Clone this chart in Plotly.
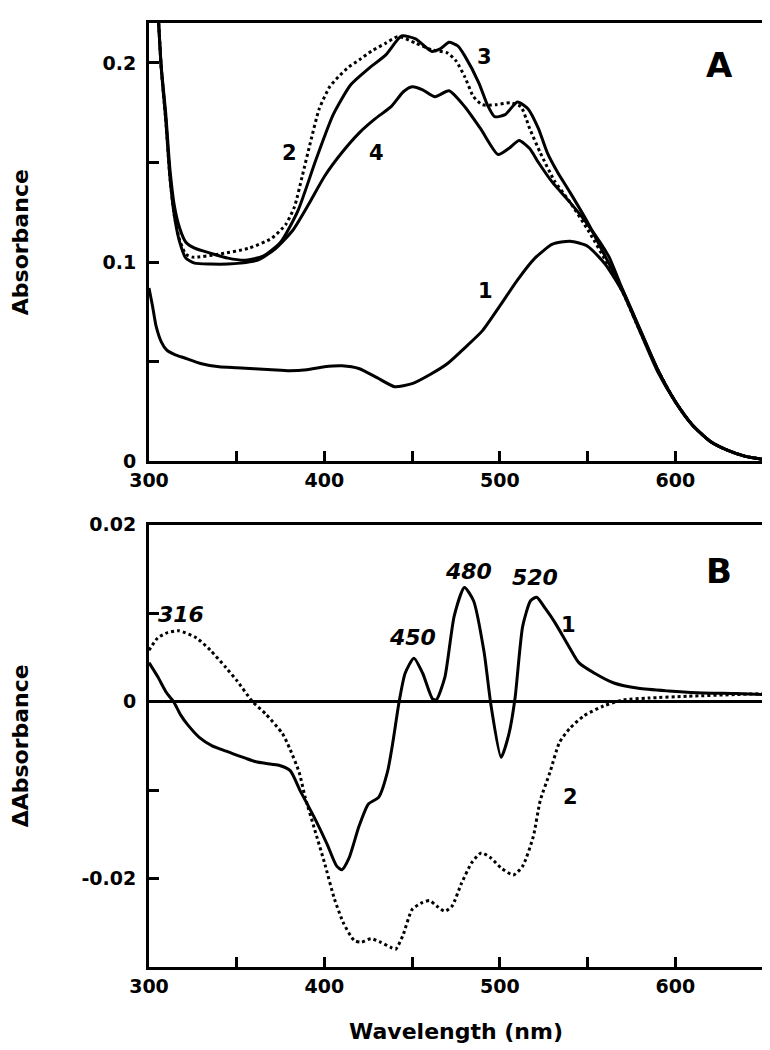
import plotly.graph_objects as go

# ---------------- Panel A data (Absorbance) ----------------
wl_a1 = [300, 302, 304, 307, 310, 315, 320, 330, 340, 350, 360, 370, 380, 390, 400, 410, 420,
         430, 440, 450, 460, 470, 480, 490, 500, 510, 520, 530, 540, 550, 560, 570, 580, 590,
         600, 610, 620, 630, 640, 650]
abs_a1 = [0.087, 0.078, 0.068, 0.060, 0.056, 0.0535, 0.052, 0.049, 0.0475, 0.047, 0.0465, 0.046,
          0.0455, 0.046, 0.0475, 0.048, 0.0465, 0.042, 0.0375, 0.039, 0.0435, 0.049, 0.057, 0.0655,
          0.078, 0.091, 0.102, 0.109, 0.1105, 0.108, 0.099, 0.085, 0.065, 0.045, 0.030, 0.018,
          0.010, 0.0055, 0.0025, 0.001]

wl_a2 = [305.5, 307, 309.5, 312, 314.5, 317.5, 321, 325, 340, 357, 370, 378, 383, 387.5, 392, 397,
         403, 408, 414, 420, 427, 435, 442, 452, 461, 470, 475, 480, 485, 490, 498, 506, 512, 517,
         523, 531, 540, 551, 562, 570, 580, 590, 600, 610, 620, 630, 640, 650]
abs_a2 = [0.22, 0.197, 0.172, 0.142, 0.123, 0.111, 0.104, 0.1025, 0.104, 0.107, 0.112, 0.119,
          0.128, 0.1437, 0.160, 0.1768, 0.188, 0.193, 0.198, 0.2016, 0.206, 0.2099, 0.2132, 0.2099,
          0.2066, 0.205, 0.201, 0.193, 0.183, 0.179, 0.179, 0.180, 0.178, 0.167, 0.155, 0.141,
          0.130, 0.115, 0.098, 0.085, 0.065, 0.046, 0.030, 0.018, 0.010, 0.0055, 0.0025, 0.001]

wl_a3 = [305.5, 307, 309.5, 312, 314.5, 317.5, 321, 326, 335, 345, 355, 365, 375, 385, 395, 405,
         415, 425, 435, 444, 452, 461, 466, 471, 476, 480, 488, 493, 497, 503, 510, 516, 522, 527,
         533, 540, 550, 560, 570, 580, 590, 600, 610, 620, 630, 640, 650]
abs_a3 = [0.22, 0.198, 0.175, 0.146, 0.128, 0.117, 0.110, 0.107, 0.1045, 0.102, 0.101, 0.103,
          0.110, 0.126, 0.151, 0.174, 0.189, 0.197, 0.204, 0.2135, 0.212, 0.2058, 0.207, 0.2103,
          0.2085, 0.2035, 0.190, 0.1787, 0.173, 0.174, 0.1804, 0.177, 0.167, 0.155, 0.145, 0.135,
          0.120, 0.103, 0.086, 0.066, 0.046, 0.030, 0.018, 0.010, 0.0055, 0.0025, 0.001]

wl_a4 = [305.5, 307, 309.5, 312, 314.5, 317.5, 321, 326, 335, 345, 352, 362, 372, 382, 391, 400,
         410, 420, 429, 438, 445, 450, 456, 463, 471, 480, 489, 499, 505, 511, 517, 522, 530, 540,
         550, 562, 570, 580, 590, 600, 610, 620, 630, 640, 650]
abs_a4 = [0.22, 0.197, 0.172, 0.142, 0.123, 0.110, 0.102, 0.0995, 0.099, 0.099, 0.0995, 0.101,
          0.1067, 0.116, 0.129, 0.143, 0.155, 0.165, 0.172, 0.178, 0.1855, 0.188, 0.1865, 0.183,
          0.186, 0.178, 0.167, 0.154, 0.157, 0.161, 0.157, 0.150, 0.140, 0.130, 0.119, 0.103,
          0.086, 0.066, 0.046, 0.030, 0.018, 0.010, 0.0055, 0.0025, 0.001]

# ---------------- Panel B data (difference spectra) ----------------
wl_b1 = [300, 305, 310, 314, 318, 322, 329, 336, 344, 348, 355, 361, 367, 374, 380.5, 386, 394.5,
         401.5, 407, 410, 414, 419.7, 425, 431, 436, 439, 442.6, 446, 451, 456, 461.6, 463.8, 468.6,
         474, 479.8, 485, 491, 495, 500.7, 505, 508.6, 513, 517.5, 521, 526, 531.5, 540, 545, 554,
         565, 579, 596, 612.5, 635, 650]
dabs_b1 = [0.0044, 0.0028, 0.0010, 0.0, -0.0015, -0.0026, -0.0041, -0.0050, -0.0056, -0.0059,
           -0.0064, -0.0068, -0.0070, -0.0072, -0.0078, -0.010, -0.0132, -0.0161, -0.0186, -0.019,
           -0.0177, -0.0141, -0.0116, -0.0108, -0.0079, -0.0046, 0.0, 0.0032, 0.0049, 0.0032,
           0.0003, 0.0002, 0.0027, 0.0097, 0.0129, 0.0114, 0.0056, -0.0005, -0.0063, -0.0038,
           0.0003, 0.0085, 0.0114, 0.0118, 0.0105, 0.0089, 0.006, 0.0044, 0.0032, 0.0021, 0.0015,
           0.0012, 0.001, 0.0009, 0.0008]

wl_b2 = [300, 305, 310.6, 317, 327, 335, 344, 350, 359, 366.5, 376, 380, 385.6, 389, 394.5, 400,
         405.7, 411, 417, 421, 426.6, 432, 438, 440.6, 444.8, 450, 456, 460, 464, 468.6, 472.8, 478,
         484, 489.5, 495, 500.7, 507.7, 513, 519, 523, 528.7, 534, 540, 548, 559, 570.6, 584.6, 607,
         635, 650]
dabs_b2 = [0.0058, 0.0072, 0.0078, 0.0080, 0.0072, 0.0058, 0.0038, 0.0024, 0.0, -0.0014, -0.0036,
           -0.0052, -0.0080, -0.0108, -0.0145, -0.0182, -0.0223, -0.0251, -0.027, -0.0272, -0.0268,
           -0.0272, -0.0278, -0.028, -0.0264, -0.0235, -0.0227, -0.0225, -0.0231, -0.0237, -0.0231,
           -0.0206, -0.0182, -0.0171, -0.0177, -0.0188, -0.0196, -0.0186, -0.0153, -0.0112, -0.0079,
           -0.0046, -0.003, -0.0016, -0.0005, 0.0002, 0.0004, 0.0006, 0.0008, 0.0009]

# ---------------- Ticks ----------------
x_tickvals = [300, 350, 400, 450, 500, 550, 600]
x_ticktext = ["300", "", "400", "", "500", "", "600"]
ya_tickvals = [0, 0.05, 0.1, 0.15, 0.2]
ya_ticktext = ["0", "", "0.1", "", "0.2"]
yb_tickvals = [-0.02, -0.01, 0, 0.01, 0.02]
yb_ticktext = ["-0.02", "", "0", "", "0.02"]

FONT = "DejaVu Sans"
LW = 3

fig = go.Figure()

solid = dict(color="black", width=LW, shape="spline", smoothing=0.6)
dotted = dict(color="black", width=LW, dash="dot", shape="spline", smoothing=0.6)

fig.add_trace(go.Scatter(x=wl_a1, y=abs_a1, mode="lines", line=solid, xaxis="x", yaxis="y", name="1"))
fig.add_trace(go.Scatter(x=wl_a2, y=abs_a2, mode="lines", line=dotted, xaxis="x", yaxis="y", name="2"))
fig.add_trace(go.Scatter(x=wl_a3, y=abs_a3, mode="lines", line=solid, xaxis="x", yaxis="y", name="3"))
fig.add_trace(go.Scatter(x=wl_a4, y=abs_a4, mode="lines", line=solid, xaxis="x", yaxis="y", name="4"))
fig.add_trace(go.Scatter(x=wl_b1, y=dabs_b1, mode="lines", line=solid, xaxis="x2", yaxis="y2", name="B1"))
fig.add_trace(go.Scatter(x=wl_b2, y=dabs_b2, mode="lines", line=dotted, xaxis="x2", yaxis="y2", name="B2"))

tickfont = dict(family=FONT, size=19, color="black", weight="bold")
titlefont = dict(family=FONT, size=22, color="black", weight="bold")

common_x = dict(range=[300, 650], tickvals=x_tickvals, ticktext=x_ticktext, ticks="inside",
                ticklen=10, tickwidth=2.5, tickcolor="black", showline=True, linewidth=LW,
                linecolor="black", mirror=True, showgrid=False, zeroline=False, tickfont=tickfont)
common_y = dict(ticks="inside", ticklen=10, tickwidth=2.5, tickcolor="black", showline=True,
                linewidth=LW, linecolor="black", mirror=True, showgrid=False, tickfont=tickfont,
                ticklabelstandoff=6)

# page body has an 8px margin, so the figure is 8px smaller than the window
fig.update_layout(
    width=762, height=1042,
    margin=dict(l=141, r=4, t=5, b=83),
    paper_bgcolor="white", plot_bgcolor="white",
    showlegend=False,
    xaxis=dict(**common_x, domain=[0, 1], anchor="y"),
    yaxis=dict(**common_y, domain=[0.5356, 1], range=[0, 0.22], tickvals=ya_tickvals,
               ticktext=ya_ticktext, zeroline=False,
               title=dict(text="Absorbance", font=titlefont, standoff=71)),
    xaxis2=dict(**common_x, domain=[0, 1], anchor="y2",
                title=dict(text="Wavelength (nm)", font=titlefont, standoff=28)),
    yaxis2=dict(**common_y, domain=[0, 0.4686], range=[-0.03, 0.02], tickvals=yb_tickvals,
                ticktext=yb_ticktext, zeroline=True, zerolinecolor="black", zerolinewidth=2.5,
                title=dict(text="\u0394Absorbance", font=titlefont, standoff=49)),
)

lab = dict(family=FONT, size=21, color="black", weight="bold")
ital = dict(family=FONT, size=22, color="black", weight="bold", style="italic")
big = dict(family=FONT, size=34, color="black", weight="bold")

annots = [
    ("x", "y", 625, 0.199, "A", big),
    ("x", "y", 491.5, 0.203, "3", lab),
    ("x", "y", 380, 0.155, "2", lab),
    ("x", "y", 429.5, 0.155, "4", lab),
    ("x", "y", 492, 0.0855, "1", lab),
    ("x2", "y2", 625, 0.0148, "B", big),
    ("x2", "y2", 318, 0.0099, "316", ital),
    ("x2", "y2", 450, 0.0073, "450", ital),
    ("x2", "y2", 482, 0.0147, "480", ital),
    ("x2", "y2", 520, 0.0140, "520", ital),
    ("x2", "y2", 539, 0.0087, "1", lab),
    ("x2", "y2", 540, -0.0108, "2", lab),
]
for xr, yr, xv, yv, txt, f in annots:
    fig.add_annotation(xref=xr, yref=yr, x=xv, y=yv, text=txt, showarrow=False, font=f)

fig.write_html("out.html")
